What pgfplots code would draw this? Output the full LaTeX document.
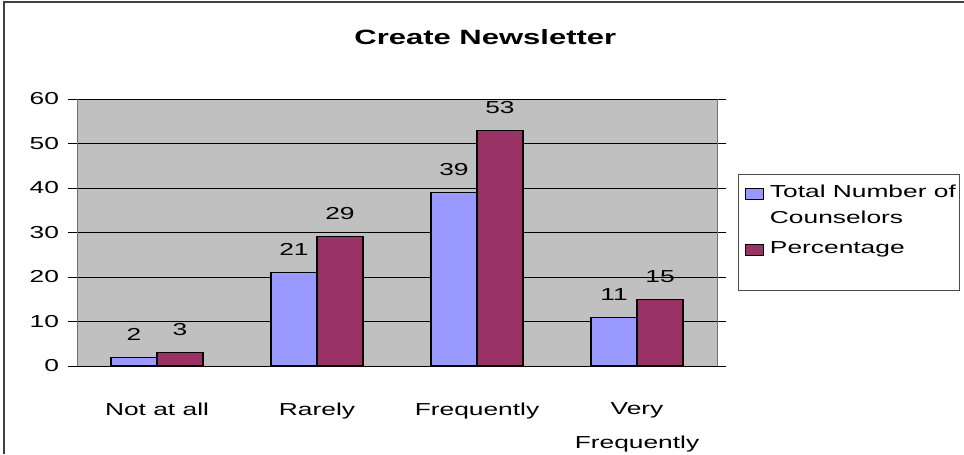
\documentclass[border=0pt]{standalone}
\usepackage{pgfplots}
\pgfplotsset{compat=1.18}
\usepackage{fontspec}
\setmainfont{Liberation Sans}[FakeStretch=1.52]
\newfontfamily\titlefont{Liberation Sans}[FakeStretch=1.5]
\definecolor{barblue}{HTML}{9999FF}
\definecolor{barmaroon}{HTML}{993366}
\definecolor{plotgray}{HTML}{C0C0C0}
\begin{document}
\begin{tikzpicture}
\fontsize{13}{19.5}\selectfont
\useasboundingbox (0,0) rectangle (723pt,340.5pt);
\draw[black!75, line width=1pt] (3pt,0pt) -- (3pt,339pt) -- (723pt,339pt);
\node[font=\titlefont\fontsize{15.5}{18}\selectfont\bfseries] at (364pt,312.4pt) {Create Newsletter};
\draw[black!70, line width=0.6pt] (553.5pt,123pt) rectangle (719.25pt,210pt);
\begin{axis}[
  at={(57.75pt,66pt)}, anchor=south west,
  scale only axis,
  width=480pt, height=200.25pt,
  ybar=0pt, bar width=34.5pt,
  xmin=-0.5, xmax=3.5,
  ymin=0, ymax=60,
  ytick={0,10,...,60},
  xtick={0,1,2,3},
  xticklabels={Not at all,Rarely,Frequently,{Very\\Frequently}},
  xticklabel style={align=center, font=\fontsize{13}{25.5}\selectfont, anchor=north, yshift=-16pt},
  major x tick style={draw=none},
  extra x ticks={-0.5,0.5,1.5,2.5,3.5},
  extra x tick labels={},
  extra x tick style={major tick length=7pt, tick style={black, draw=black}, tick align=outside},
  ytick align=outside, major tick length=7pt,
  tick style={black, line width=0.6pt},
  yticklabel style={font=\fontsize{13}{15}\selectfont, xshift=-2pt},
  /pgf/number format/assume math mode=true,
  ymajorgrids, grid style={black, line width=0.6pt},
  axis background/.style={fill=plotgray},
  axis line style={draw=gray!90!black, line width=0.6pt},
  axis x line*=bottom,
  separate axis lines,
  x axis line style={draw=black},
  nodes near coords,
  every node near coord/.append style={font=\fontsize{13}{15}\selectfont, yshift=8pt},
  legend style={draw=none, fill=none, at={(1.04375,0.69)}, anchor=north west,
    inner sep=0pt, row sep=8pt, column sep=3pt, font=\fontsize{13}{19.5}\selectfont,
    cells={align=left, anchor=base west}},
  clip=false,
]
\addplot[fill=barblue, draw=black, line width=0.8pt,
  legend image code/.code={\draw[fill=barblue, draw=black, line width=0.5pt] (0pt,18pt) rectangle (13pt,26.5pt);}]
  coordinates {(0,2) (1,21) (2,39) (3,11)};
\addlegendentry{Total Number of\\Counselors}
\addplot[fill=barmaroon, draw=black, line width=0.8pt,
  legend image code/.code={\draw[fill=barmaroon, draw=black, line width=0.5pt] (0pt,-1.5pt) rectangle (13pt,7pt);}]
  coordinates {(0,3) (1,29) (2,53) (3,15)};
\addlegendentry{Percentage}
\draw[gray!90!black, line width=0.6pt] (rel axis cs:0,0) -- (rel axis cs:0,1);
\draw[gray!90!black, line width=0.6pt] (rel axis cs:1,0) -- (rel axis cs:1,1);
\end{axis}
\end{tikzpicture}
\end{document}
